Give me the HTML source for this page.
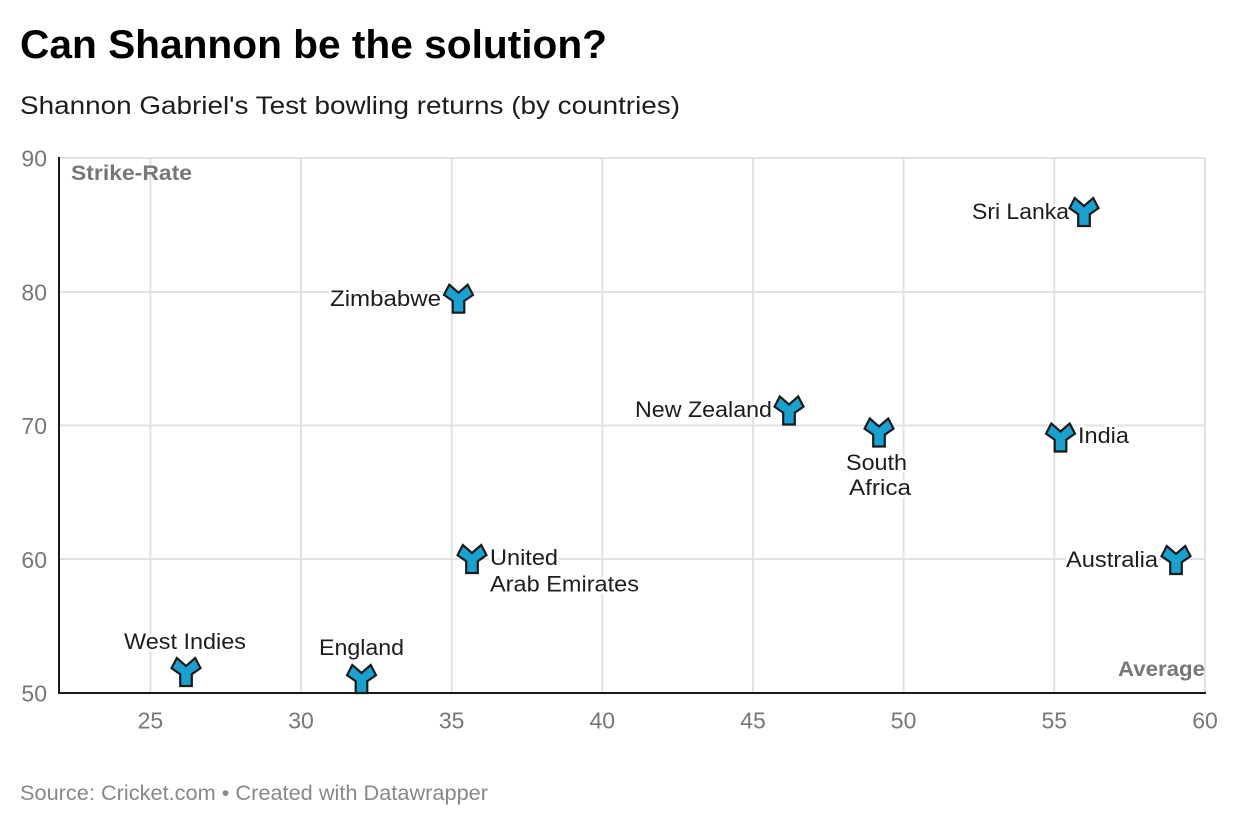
<!DOCTYPE html>
<html>
<head>
<meta charset="utf-8">
<style>
html,body{margin:0;padding:0;background:#fff;}
svg{display:block;}
text{font-family:"Liberation Sans",Arial,sans-serif;}
.lbl{font-size:22px;fill:#1d1d1d;stroke:#fff;stroke-width:5px;paint-order:stroke;stroke-linejoin:round;}
.tick{font-size:23px;fill:#777;}
.grid{stroke:#e2e2e2;stroke-width:2;}
</style>
</head>
<body>
<svg width="1240" height="840" viewBox="0 0 1240 840" xmlns="http://www.w3.org/2000/svg">
<defs>
<polygon id="m" points="-14.5,-3.8 -9.2,-14 0,-6 9.2,-14 14.5,-3.8 5.8,2.2 5.8,14 -5.8,14 -5.8,2.2" fill="#19a1cf" stroke="#1a1a1a" stroke-width="2.2" stroke-linejoin="miter"/>
</defs>
<text x="20" y="58" font-size="40" font-weight="bold" fill="#000" textLength="587" lengthAdjust="spacingAndGlyphs">Can Shannon be the solution?</text>
<text x="20" y="114" font-size="25" fill="#1d1d1d" textLength="660" lengthAdjust="spacingAndGlyphs">Shannon Gabriel's Test bowling returns (by countries)</text>

<g class="grid">
<line x1="60" y1="158" x2="1205" y2="158"/>
<line x1="60" y1="292" x2="1205" y2="292"/>
<line x1="60" y1="425.5" x2="1205" y2="425.5"/>
<line x1="60" y1="559" x2="1205" y2="559"/>
<line x1="150.4" y1="158" x2="150.4" y2="693"/>
<line x1="301" y1="158" x2="301" y2="693"/>
<line x1="451.7" y1="158" x2="451.7" y2="693"/>
<line x1="602.3" y1="158" x2="602.3" y2="693"/>
<line x1="753" y1="158" x2="753" y2="693"/>
<line x1="903.6" y1="158" x2="903.6" y2="693"/>
<line x1="1054.3" y1="158" x2="1054.3" y2="693"/>
<line x1="1205" y1="158" x2="1205" y2="693"/>
</g>
<line x1="59" y1="157" x2="59" y2="694" stroke="#1a1a1a" stroke-width="2"/>
<line x1="58" y1="693" x2="1206" y2="693" stroke="#1a1a1a" stroke-width="2"/>

<g class="tick" text-anchor="end">
<text x="47" y="166.5">90</text>
<text x="47" y="300.5">80</text>
<text x="47" y="434">70</text>
<text x="47" y="568">60</text>
<text x="47" y="701.5">50</text>
</g>
<g class="tick" text-anchor="middle">
<text x="150.4" y="728.5">25</text>
<text x="301" y="728.5">30</text>
<text x="451.7" y="728.5">35</text>
<text x="602.3" y="728.5">40</text>
<text x="753" y="728.5">45</text>
<text x="903.6" y="728.5">50</text>
<text x="1054.3" y="728.5">55</text>
<text x="1205" y="728.5">60</text>
</g>

<text x="71" y="180" font-size="21" font-weight="bold" fill="#777" textLength="121" lengthAdjust="spacingAndGlyphs">Strike-Rate</text>
<text x="1118" y="676" font-size="21" font-weight="bold" fill="#777" textLength="87" lengthAdjust="spacingAndGlyphs">Average</text>

<text class="lbl" x="972" y="219" textLength="97" lengthAdjust="spacingAndGlyphs">Sri Lanka</text>
<text class="lbl" x="330" y="306" textLength="111" lengthAdjust="spacingAndGlyphs">Zimbabwe</text>
<text class="lbl" x="635" y="417" textLength="137" lengthAdjust="spacingAndGlyphs">New Zealand</text>
<text class="lbl" x="846" y="470" textLength="61" lengthAdjust="spacingAndGlyphs">South</text>
<text class="lbl" x="849" y="495" textLength="62" lengthAdjust="spacingAndGlyphs">Africa</text>
<text class="lbl" x="1078" y="443" textLength="51" lengthAdjust="spacingAndGlyphs">India</text>
<text class="lbl" x="490" y="565" textLength="68" lengthAdjust="spacingAndGlyphs">United</text>
<text class="lbl" x="490" y="591.5" textLength="149" lengthAdjust="spacingAndGlyphs">Arab Emirates</text>
<text class="lbl" x="1066" y="567" textLength="92" lengthAdjust="spacingAndGlyphs">Australia</text>
<text class="lbl" x="124" y="649" textLength="122" lengthAdjust="spacingAndGlyphs">West Indies</text>
<text class="lbl" x="319" y="655" textLength="85" lengthAdjust="spacingAndGlyphs">England</text>

<use href="#m" x="1084" y="212"/>
<use href="#m" x="458.5" y="298.7"/>
<use href="#m" x="789" y="410.5"/>
<use href="#m" x="879" y="432.5"/>
<use href="#m" x="1060.5" y="437.5"/>
<use href="#m" x="472" y="559"/>
<use href="#m" x="1176" y="560"/>
<use href="#m" x="186" y="672"/>
<use href="#m" x="361.5" y="679"/>

<text x="20" y="800" font-size="21" fill="#888" textLength="468" lengthAdjust="spacingAndGlyphs">Source: Cricket.com • Created with Datawrapper</text>
</svg>
</body>
</html>
